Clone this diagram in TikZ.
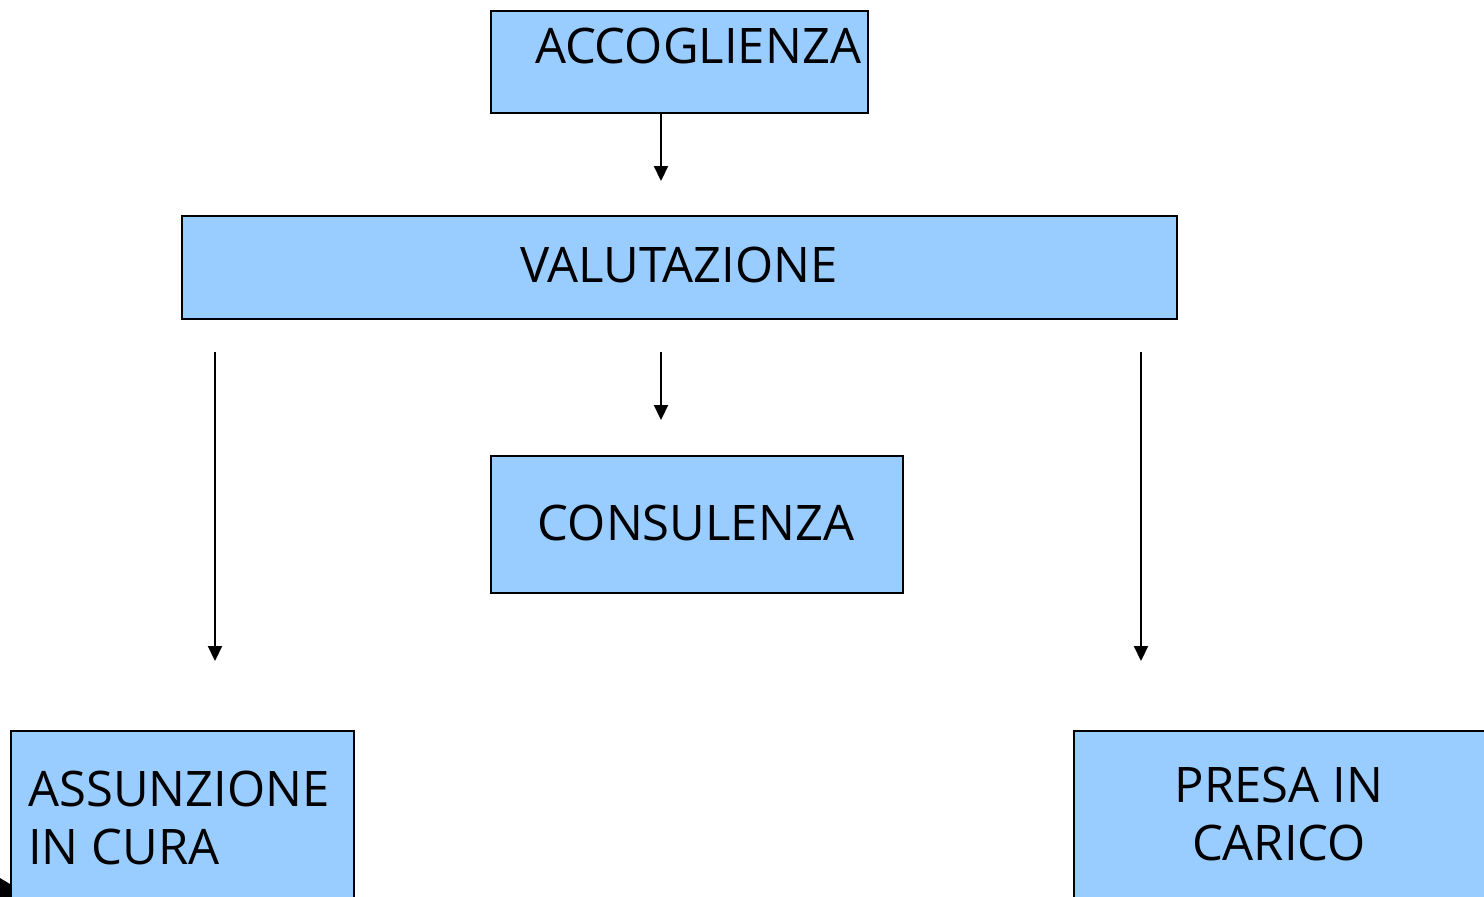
\documentclass[tikz,border=0pt]{standalone}
\usepackage{fontspec}
\setmainfont{Open Sans}
\usetikzlibrary{arrows.meta}
\definecolor{boxblue}{HTML}{99CCFF}
\begin{document}
\begin{tikzpicture}[x=1pt,y=-1pt,
  box/.style={draw=black, line width=1.6pt, fill=boxblue, inner sep=0pt, anchor=north west},
  lbl/.style={font=\fontsize{49}{58}\selectfont, inner sep=0pt},
  arr/.style={line width=2.2pt, -{Triangle[width=14pt,length=15pt]}}]
\useasboundingbox (0,0) rectangle (1484,897);
% boxes
\node[box, minimum width=377pt, minimum height=102pt] (acc) at (490,10) {};
\node[box, minimum width=995pt, minimum height=103pt] (val) at (181,215) {};
\node[box, minimum width=412pt, minimum height=137pt] (con) at (490,455) {};
\node[box, minimum width=343pt, minimum height=200pt] (ass) at (10,730) {};
\node[box, minimum width=440pt, minimum height=200pt] (pre) at (1073,730) {};
% texts
\node[lbl, anchor=base] (tacc) at (698,63) {ACCOGLIENZA};
\node[lbl, anchor=base] (tval) at (679,282) {VALUTAZIONE};
\node[lbl, anchor=base] (tcon) at (696,540) {CONSULENZA};
\node[lbl, anchor=base west, align=left] (tass) at (28,864) {ASSUNZIONE\\IN CURA};
\node[lbl, anchor=base, align=center] (tpre) at (1279,860) {PRESA IN\\CARICO};
% arrow end points
\coordinate (a1) at (661,181);
\coordinate (v1) at (215,352);
\coordinate (v2) at (661,352);
\coordinate (v3) at (1141,352);
\coordinate (e1) at (215,661);
\coordinate (e2) at (661,420);
\coordinate (e3) at (1141,661);
\draw[arr] (acc.south -| a1) -- (a1);
\draw[arr] (v1) -- (e1);
\draw[arr] (v2) -- (e2);
\draw[arr] (v3) -- (e3);
% corner decoration
\fill[black] (0,878) -- (10,884) -- (10,897) -- (0,897) -- cycle;
\end{tikzpicture}
\end{document}
